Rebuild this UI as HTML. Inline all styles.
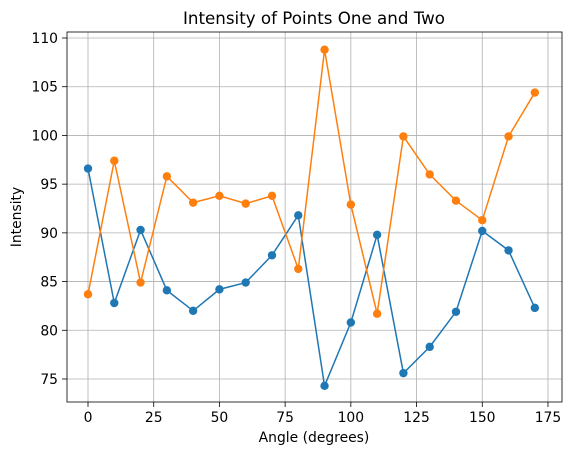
<!DOCTYPE html>
<html><head><meta charset="utf-8"><style>
body{margin:0;background:#fff;font-family:"Liberation Sans","DejaVu Sans",sans-serif;}
svg text{font-family:"DejaVu Sans","Liberation Sans",sans-serif;}
</style></head><body>
<svg id="chart" width="575" height="455">
<rect x="0" y="0" width="575" height="455" fill="#fff"/>
<text x="314" y="24" font-size="16.7" text-anchor="middle" fill="#000">Intensity of Points One and Two</text>
<text x="314" y="442" font-size="13.9" text-anchor="middle">Angle (degrees)</text>
<text x="21" y="217" font-size="13.9" text-anchor="middle" transform="rotate(-90 21 217)">Intensity</text>
<g id="grid"></g><g id="series"></g><g id="ticks"></g>
<rect x="67" y="32" width="495" height="370" fill="none" stroke="#000" stroke-width="0.8"/>
</svg>
<script>
const angles=[0,10,20,30,40,50,60,70,80,90,100,110,120,130,140,150,160,170];
const pointOne=[96.6,82.8,90.3,84.1,82.0,84.2,84.9,87.7,91.8,74.3,80.8,89.8,75.6,78.3,81.9,90.2,88.2,82.3];
const pointTwo=[83.7,97.4,84.9,95.8,93.1,93.8,93.0,93.8,86.3,108.8,92.9,81.7,99.9,96.0,93.3,91.3,99.9,104.4];
const xTicks=[0,25,50,75,100,125,150,175];
const yTicks=[75,80,85,90,95,100,105,110];
const NS="http://www.w3.org/2000/svg";
function xs(v){return 88+(v/25)*65.71;}
function ys(v){return 379-(v-75)*(341/35);}
function mk(t,a,p){const e=document.createElementNS(NS,t);for(const k in a)e.setAttribute(k,a[k]);p.appendChild(e);return e;}
const grid=document.getElementById('grid'),ticks=document.getElementById('ticks'),ser=document.getElementById('series');
xTicks.forEach(t=>{const x=xs(t);
 const g=mk('line',{x1:x,x2:x,y1:32,y2:402,stroke:'#b0b0b0','stroke-width':0.8},grid);
 
 
 mk('line',{x1:x,x2:x,y1:402,y2:407,stroke:'#000','stroke-width':0.8},ticks);
 const tx=mk('text',{x:x,y:422,'font-size':13.9,'text-anchor':'middle'},ticks);tx.textContent=t;
 
 
});
yTicks.forEach(t=>{const y=ys(t);
 const g=mk('line',{x1:67,x2:562,y1:y,y2:y,stroke:'#b0b0b0','stroke-width':0.8},grid);
 
 
 mk('line',{x1:62,x2:67,y1:y,y2:y,stroke:'#000','stroke-width':0.8},ticks);
 const tx=mk('text',{x:58,y:y+5,'font-size':13.9,'text-anchor':'end'},ticks);tx.textContent=t;
 
 
});
function draw(vals,color,name){
 const pts=angles.map((a,i)=>xs(a)+','+ys(vals[i])).join(' ');
 const l=mk('polyline',{points:pts,fill:'none',stroke:color,'stroke-width':1.5},ser);
 
 
 angles.forEach((a,i)=>{const c=mk('circle',{cx:xs(a),cy:ys(vals[i]),r:4.2,fill:color},ser);
  
  });
}
draw(pointOne,'#1f77b4','point-one');
draw(pointTwo,'#ff7f0e','point-two');
</script>
</body></html>
